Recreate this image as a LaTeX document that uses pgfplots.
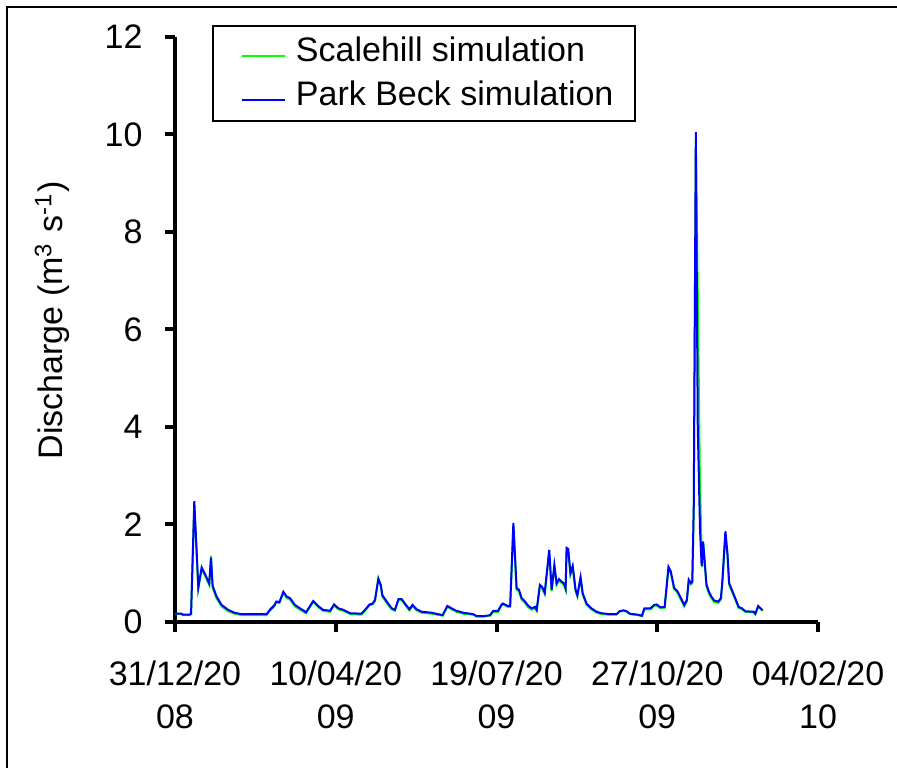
\documentclass[border=0pt]{standalone}
\usepackage{fontspec}
\setmainfont{Liberation Sans}
\usepackage{pgfplots}
\pgfplotsset{compat=1.18}
\begin{document}
\begin{tikzpicture}
\fontsize{8.5}{10}\selectfont
\path[use as bounding box] (0,0) rectangle (224.25pt,-192pt);
\draw[line width=0.6pt] (1.75pt,-200pt) -- (1.75pt,-1.75pt) -- (230pt,-1.75pt);
\begin{axis}[
 at={(43.75pt,-155.5pt)}, anchor=south west,
 scale only axis, width=160.75pt, height=146.25pt,
 xmin=0, xmax=400, ymin=0, ymax=12,
 axis x line*=bottom, axis y line*=left,
 axis line style={-, line width=1pt, black},
 xtick={0,100,200,300,400},
 xticklabels={{31/12/20\\08},{10/04/20\\09},{19/07/20\\09},{27/10/20\\09},{04/02/20\\10}},
 ytick={0,2,...,12},
 tick align=outside, major tick length=2.5pt,
 tick style={line width=1pt, black},
 font=\fontsize{8.5}{10}\selectfont,
 /pgf/number format/assume math mode=true,
 xticklabel style={align=center, font=\fontsize{8.5}{10.85}\selectfont, yshift=-4.2pt},
 yticklabel style={xshift=-2.6pt},
 ylabel={Discharge (m\textsuperscript{3} s\textsuperscript{-1})},
 ylabel style={at={(axis description cs:-0.191,0.516)}, anchor=center},
 legend style={at={(axis description cs:0.0575,1.0205)}, anchor=north west, draw=black, line width=0.5pt, inner xsep=4.25pt, inner ysep=1.5pt, row sep=1pt, nodes={inner sep=1.25pt}},
 legend image code/.code={\draw[#1] (2.75pt,-1pt) -- (13.5pt,-1pt); \path (0pt,0pt) (14.75pt,0pt);},
 legend cell align=left,
]
\addplot[color={rgb,255:red,0;green,255;blue,0}, line width=0.5pt] coordinates {
(0,0.16) (4,0.16) (5,0.14) (9,0.14) (10,0.16) (12,2.40) (14.5,0.68) (16.6,1.08) (18.7,0.95) (21.3,0.76)
(22.4,1.36) (23.4,0.70) (25.9,0.48) (29,0.32) (33,0.22) (37,0.17) (41.5,0.14) (57,0.14) (59,0.23) (62,0.33)
(63,0.40) (65,0.39) (67.4,0.60) (69.5,0.49) (71.5,0.46) (74.6,0.32) (77.8,0.25) (81.5,0.18) (86,0.41) (89,0.31)
(92,0.23) (96.4,0.21) (99,0.34) (101.6,0.26) (104.7,0.23) (109,0.16) (116,0.15) (119,0.26) (121,0.34) (123,0.36)
(124.4,0.43) (126.5,0.90) (128,0.73) (129,0.52) (131.7,0.39) (134.8,0.26) (136.8,0.23) (139,0.45) (141,0.45) (143,0.36)
(145.8,0.24) (147.8,0.33) (150.3,0.24) (153.5,0.19) (159.7,0.17) (166.5,0.13) (169.4,0.31) (172,0.26) (175,0.21) (179.4,0.17)
(185.6,0.15) (187.6,0.11) (191.8,0.11) (196,0.13) (198,0.21) (201,0.21) (203,0.33) (204,0.36) (207,0.31) (208.5,0.31)
(210.5,1.98) (212.5,0.66) (214,0.62) (215.6,0.46) (217.7,0.39) (219.8,0.30) (221.9,0.25) (224,0.28) (225,0.23) (227,0.74)
(228.4,0.69) (230,0.57) (232.8,1.44) (234.3,0.63) (236,1.13) (237.4,0.76) (238.9,0.85) (240.5,0.80) (242,0.76) (243,0.66)
(243.6,1.48) (244.6,1.46) (246,0.97) (247.4,1.12) (249.2,0.63) (250.3,0.52) (252.3,0.89) (253.6,0.56) (256,0.35) (259,0.26)
(262.3,0.19) (265.4,0.16) (270.6,0.15) (274.7,0.15) (276.5,0.21) (279,0.23) (281,0.21) (283,0.16) (288,0.14) (290.5,0.12)
(292,0.26) (295.8,0.26) (298,0.33) (299.6,0.34) (302,0.28) (304.6,0.29) (307,1.10) (308.4,1.01) (310.5,0.67) (312.6,0.60)
(314.7,0.46) (316.8,0.32) (318.4,0.42) (319.6,0.84) (321,0.77) (321.8,0.80) (322.7,2.30) (324,9.90) (325.3,6.5) (326.5,3.0)
(327.5,1.6) (328,1.12) (328.7,1.62) (330.6,0.74) (332,0.60) (333.7,0.49) (335.4,0.41) (338,0.39) (339.6,0.46) (340.5,0.80)
(342.4,1.82) (343.7,1.36) (344.7,0.77) (346.4,0.63) (348.5,0.46) (350.6,0.29) (352.7,0.26) (354.8,0.21) (360,0.20) (361,0.16)
(362.8,0.31) (364.3,0.27) (365.5,0.23)
};
\addlegendentry{Scalehill simulation}
\addplot[color={rgb,255:red,0;green,0;blue,255}, line width=0.5pt] coordinates {
(0,0.17) (4,0.17) (5,0.15) (9,0.15) (10,0.17) (12,2.48) (14.5,0.71) (16.6,1.12) (18.7,0.98) (21.3,0.79)
(22.4,1.32) (23.4,0.74) (25.9,0.52) (29,0.35) (33,0.25) (37,0.19) (41.5,0.16) (57,0.16) (59,0.25) (62,0.35)
(63,0.42) (65,0.41) (67.4,0.62) (69.5,0.52) (71.5,0.49) (74.6,0.35) (77.8,0.28) (81.5,0.2) (86,0.43) (89,0.33)
(92,0.25) (96.4,0.23) (99,0.36) (101.6,0.28) (104.7,0.25) (109,0.18) (116,0.17) (119,0.28) (121,0.36) (123,0.38)
(124.4,0.45) (126.5,0.88) (128,0.76) (129,0.55) (131.7,0.42) (134.8,0.28) (136.8,0.25) (139,0.47) (141,0.47) (143,0.38)
(145.8,0.26) (147.8,0.35) (150.3,0.26) (153.5,0.21) (159.7,0.19) (166.5,0.14) (169.4,0.33) (172,0.28) (175,0.23) (179.4,0.19)
(185.6,0.16) (187.6,0.12) (191.8,0.12) (196,0.14) (198,0.23) (201,0.23) (203,0.35) (204,0.38) (207,0.33) (208.5,0.33)
(210.5,2.03) (212.5,0.69) (214,0.66) (215.6,0.49) (217.7,0.42) (219.8,0.33) (221.9,0.28) (224,0.31) (225,0.25) (227,0.76)
(228.4,0.72) (230,0.6) (232.8,1.48) (234.3,0.66) (236,1.17) (237.4,0.79) (238.9,0.88) (240.5,0.83) (242,0.79) (243,0.69)
(243.6,1.52) (244.6,1.5) (246,1.0) (247.4,1.15) (249.2,0.66) (250.3,0.55) (252.3,0.92) (253.6,0.59) (256,0.38) (259,0.28)
(262.3,0.21) (265.4,0.18) (270.6,0.16) (274.7,0.16) (276.5,0.22) (279,0.24) (281,0.22) (283,0.17) (288,0.15) (290.5,0.13)
(292,0.28) (295.8,0.28) (298,0.35) (299.6,0.36) (302,0.3) (304.6,0.31) (307,1.13) (308.4,1.04) (310.5,0.7) (312.6,0.63)
(314.7,0.49) (316.8,0.35) (318.4,0.45) (319.6,0.87) (321,0.8) (321.8,0.83) (322.7,2.36) (324,10.05) (325.2,4.0) (326.6,1.9)
(327.6,1.15) (328.5,1.65) (330.6,0.77) (332,0.63) (333.7,0.52) (335.4,0.44) (338,0.42) (339.6,0.49) (340.5,0.83) (342.4,1.86)
(343.7,1.39) (344.7,0.8) (346.4,0.66) (348.5,0.49) (350.6,0.31) (352.7,0.28) (354.8,0.22) (360,0.21) (361,0.17) (362.8,0.33)
(364.3,0.28) (365.5,0.24)
};
\addlegendentry{Park Beck simulation}
\end{axis}
\end{tikzpicture}
\end{document}
